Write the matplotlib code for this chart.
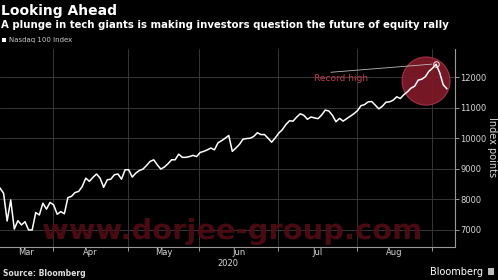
import numpy as np
import matplotlib.pyplot as plt
from matplotlib.patches import Ellipse, PathPatch, Rectangle
from matplotlib.textpath import TextPath
from matplotlib.font_manager import FontProperties
import matplotlib.transforms as mtransforms

# Nasdaq 100 daily closes, trading days from mid March to early September 2020
nasdaq = [8370, 8200, 7295, 7980, 7030, 7305, 7165, 7270, 7000, 7000,
          7570, 7490, 7875, 7680, 7900, 7820, 7515, 7600, 7530, 8060,
          8100, 8225, 8260, 8420, 8695, 8590, 8720, 8830, 8695, 8395,
          8640, 8660, 8805, 8830, 8660, 8970, 8970, 8730, 8860, 8945,
          8990, 9110, 9240, 9295, 9130, 8990, 9060, 9165, 9295, 9295,
          9480, 9375, 9375, 9400, 9440, 9400, 9535, 9570, 9620, 9680,
          9620, 9850, 9920, 10000, 10090, 9570, 9680, 9800, 9970, 9990,
          10000, 10060, 10180, 10120, 10120, 10000, 9870, 10010, 10170, 10280,
          10450, 10570, 10560, 10690, 10800, 10750, 10620, 10695, 10665, 10640,
          10760, 10920, 10890, 10750, 10540, 10650, 10560, 10640, 10720, 10800,
          10900, 11065, 11100, 11190, 11200, 11080, 10960, 11050, 11180, 11190,
          11245, 11355, 11300, 11425, 11520, 11640, 11700, 11900, 11930, 12010,
          12190, 12290, 12420, 12150, 11750, 11620]

month_names = ['Mar', 'Apr', 'May', 'Jun', 'Jul', 'Aug']
month_starts = [15, 36, 56, 78, 100, 121]   # index of first trading day of Apr..Sep
y_ticks = [7000, 8000, 9000, 10000, 11000, 12000]

W, H = 498, 280
fig = plt.figure(figsize=(W / 100, H / 100), dpi=100, facecolor='black')
ax = fig.add_axes([0, 33 / H, 455 / W, (247 - 49) / H])
ax.set_facecolor('black')

x = np.arange(len(nasdaq))
ax.set_xlim(0, 127.3)
ax.set_ylim(6443, 12918)

grid_c = '#363636'
bounds = [m - 0.2 for m in month_starts]
for b in bounds:
    ax.axvline(b, color=grid_c, lw=0.7, zorder=0)
for t in y_ticks:
    ax.axhline(t, color=grid_c, lw=0.7, zorder=0)

# highlight circle around the record high
ax.add_patch(Ellipse((119.2, 11870), width=13.4, height=1574,
                     facecolor='#841a2a', edgecolor='#aa3646', lw=0.8, alpha=0.9, zorder=1))

ax.plot(x, nasdaq, color='white', lw=1.1, zorder=3)

peak = int(np.argmax(nasdaq))
ax.plot(peak, nasdaq[peak], 'o', mfc='none', mec='#f0d0d5', mew=0.8, ms=4, zorder=4)
ax.annotate('', xy=(peak - 0.4, nasdaq[peak] + 10), xytext=(91.8, 12150),
            arrowprops=dict(arrowstyle='-', color='#bbbbbb', lw=0.6), zorder=4)
ax.text(95.4, 11950, 'Record high', color='#c43a4c', fontsize=6.5,
        ha='center', va='center', zorder=4)

# axes styling
for s in ['left', 'top']:
    ax.spines[s].set_visible(False)
for s in ['right', 'bottom']:
    ax.spines[s].set_color('#9a9a9a')
    ax.spines[s].set_linewidth(0.8)

ax.yaxis.tick_right()
ax.set_yticks(y_ticks)
ax.set_yticklabels([str(t) for t in y_ticks])
ax.tick_params(axis='y', colors='#9a9a9a', labelcolor='#d8d8d8', labelsize=6,
               length=3, width=0.7, pad=1)

ax.set_xticks(bounds, minor=True)
mids = [(0 + bounds[0]) / 2] + [(bounds[i] + bounds[i + 1]) / 2 for i in range(len(bounds) - 1)]
ax.set_xticks(mids)
ax.set_xticklabels(month_names)
ax.tick_params(axis='x', which='major', length=0, labelcolor='#d8d8d8', labelsize=6, pad=1)
ax.tick_params(axis='x', which='minor', length=3, width=0.7, color='#9a9a9a')
ax.text(228 / 455, -0.085, '2020', transform=ax.transAxes, color='#d8d8d8',
        fontsize=6, ha='center', va='center')

fig.text(492 / W, 1 - 147 / H, 'Index points', rotation=270, color='#d8d8d8',
         fontsize=7, ha='center', va='center')

# titles and legend
fig.text(1 / W, 1 - 15 / H, 'Looking Ahead', color='white', fontsize=10,
         fontweight='bold', ha='left', va='baseline')
fig.text(1 / W, 1 - 28.5 / H, 'A plunge in tech giants is making investors question the future of equity rally',
         color='white', fontsize=7.3, fontweight='bold', ha='left', va='baseline')
fig.add_artist(Rectangle((2 / W, 1 - 42 / H), 4 / W, 4 / H, transform=fig.transFigure,
                         facecolor='white', edgecolor='none'))
fig.text(9 / W, 1 - 40 / H, 'Nasdaq 100 Index', color='#cccccc', fontsize=5,
         ha='left', va='center')

# footer
fig.text(3 / W, 1 - 274 / H, 'Source: Bloomberg', color='#dddddd', fontsize=5.5,
         fontweight='bold', ha='left', va='center')
fig.text(483 / W, 1 - 272 / H, 'Bloomberg', color='white', fontsize=7,
         ha='right', va='center')
fig.add_artist(Rectangle((488 / W, 1 - 275 / H), 6 / W, 7 / H, transform=fig.transFigure,
                         facecolor='#bbbbbb', edgecolor='none'))

# watermark
tp = TextPath((0, 0), 'www.dorjee-group.com', size=1,
              prop=FontProperties(family='DejaVu Sans', weight='bold'))
bb = tp.get_extents()
sx = 377 / bb.width
sy = 27 / bb.height
tr = mtransforms.Affine2D().translate(-bb.x0, -bb.y0).scale(sx, sy).translate(43, H - 245) \
    + mtransforms.IdentityTransform()
fig.add_artist(PathPatch(tp, transform=tr, facecolor='#520c15', edgecolor='none', alpha=0.9))

fig.savefig('out.png', dpi=100, facecolor='black')
